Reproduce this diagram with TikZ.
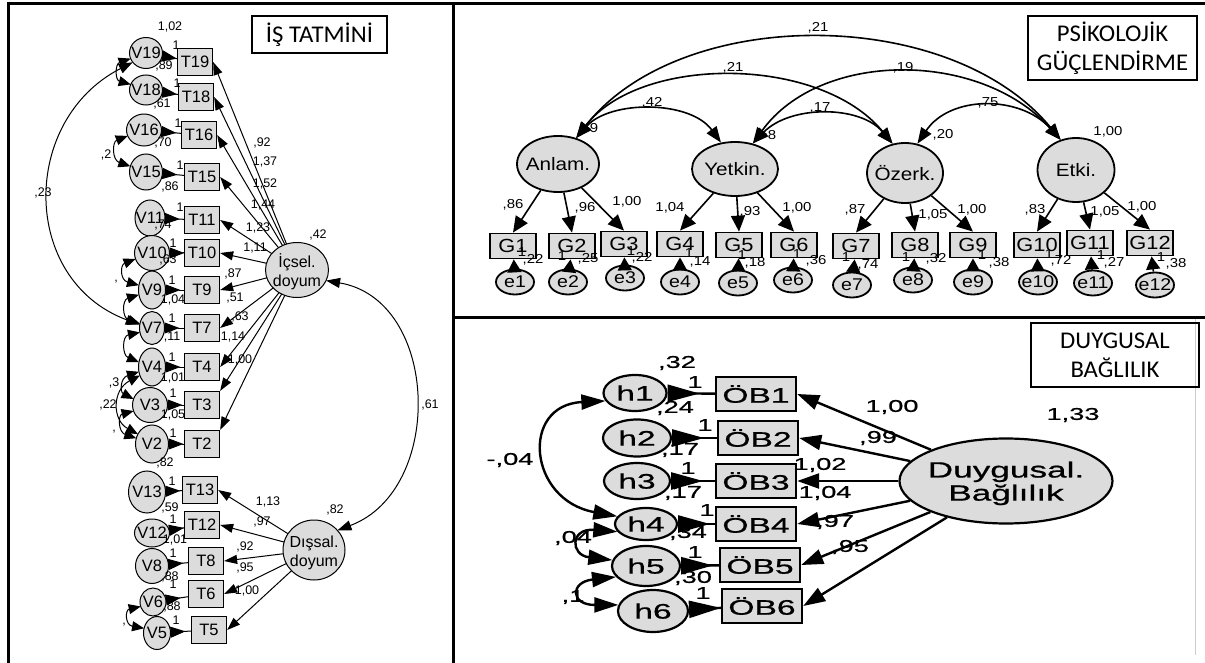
\documentclass[tikz,border=0pt]{standalone}
\usepackage{fontspec}
\setmainfont{Liberation Sans}
\newfontfamily\ttlfont[FakeStretch=1.03]{Carlito}
\newfontfamily\wafont[FakeStretch=1.15]{Liberation Sans}
\newfontfamily\wbfont[FakeStretch=1.6,FakeBold=0.8]{Liberation Sans}
\usetikzlibrary{shapes.geometric,arrows.meta}
\definecolor{lg}{RGB}{220,220,220}
\newcommand\myfs[2]{\fontsize{#1}{#2}\selectfont}
\newcommand\ctr[1]{\smash{\makebox[0pt]{\raisebox{-.5\height}{#1}}}}
\tikzset{
 ttl/.style={draw, line width=1.3pt, align=center, inner sep=0pt, font=\ttlfont\myfs{24}{29}},
 vel/.style={ellipse, draw, fill=lg, line width=1pt, inner sep=0pt, outer sep=0pt, font=\myfs{16.5}{18}},
 tbox/.style={rectangle, draw, fill=lg, line width=1.3pt, minimum width=35pt, minimum height=27pt, inner sep=0pt, font=\myfs{16.5}{18}},
 nl/.style={font=\myfs{12.5}{13}, inner sep=0pt},
 ldA/.style={line width=1pt, -{Triangle[length=13pt,width=9pt]}},
 erA/.style={line width=1pt, {Triangle[reversed,length=15pt,width=11pt]}-},
 cvA/.style={line width=1pt, {Triangle[length=12pt,width=10pt]}-{Triangle[length=12pt,width=10pt]}},
 cvB/.style={line width=1pt, {Triangle[length=14pt,width=10pt]}-{Triangle[length=14pt,width=10pt]}},
 lat2/.style={ellipse, draw, fill=lg, line width=1.8pt, inner sep=0pt, font=\wafont\myfs{18}{20}},
 gbox/.style={rectangle, draw, fill=lg, line width=1.8pt, minimum width=46pt, minimum height=25pt, inner sep=0pt, font=\wafont\myfs{19}{20}},
 eel/.style={ellipse, draw, fill=lg, line width=1.8pt, inner sep=0pt, minimum width=38pt, minimum height=25pt, font=\wafont\myfs{17}{18}},
 nl2/.style={font=\wafont\myfs{13}{14}, inner sep=0pt},
 ld2/.style={line width=1.6pt, -{Triangle[length=16pt,width=14pt]}},
 er2/.style={line width=1.6pt, -{Triangle[length=13pt,width=14pt]}},
 cv2/.style={line width=1.6pt, {Triangle[length=16pt,width=12pt]}-{Triangle[length=16pt,width=12pt]}},
 hel/.style={ellipse, draw, fill=lg, line width=2.2pt, inner sep=0pt, font=\wbfont\myfs{21}{22}},
 obox/.style={rectangle, draw, fill=lg, line width=2.4pt, minimum width=80pt, minimum height=34pt, inner sep=0pt, font=\wbfont\myfs{21}{22}},
 nl3/.style={font=\wbfont\myfs{17}{18}, inner sep=0pt},
 ld3/.style={line width=2.4pt, -{Triangle[length=22pt,width=15pt]}},
 er3/.style={line width=2.4pt, {Triangle[reversed,length=32pt,width=17pt]}-},
 cv3/.style={line width=2.4pt, {Triangle[length=24pt,width=15pt]}-{Triangle[length=24pt,width=15pt]}},
}
\begin{document}
\begin{tikzpicture}[x=1pt,y=-1pt]
\useasboundingbox (0,0) rectangle (1205,663);
\fill[white] (0,0) rectangle (1205,663);
% frame
\draw[line width=3pt] (8.5,663) -- (8.5,3.5) -- (1205,3.5);
\draw[line width=3pt] (453,3.5) -- (453,663);
\draw[line width=3pt] (453,317) -- (1205,317);
\draw[line width=0.8pt, black!20] (1195,319) -- (1195,655);
% titles
\node[ttl, minimum width=135pt, minimum height=37pt] (t1) at (319.5,34.5) {İŞ TATMİNİ};
\node[ttl, minimum width=169pt, minimum height=64pt] (t2) at (1112.5,48) {PSİKOLOJİK\\GÜÇLENDİRME};
\node[ttl, minimum width=168pt, minimum height=64pt] (t3) at (1115,355) {DUYGUSAL\\BAĞLILIK};

% ---------------- left panel nodes
\foreach \n/\x/\y/\w/\h in {V19/146/53/33/31, V18/146/90/33/30, V16/144/130/35/32, V15/146/172/33/36,
  V11/150/218/30/36, V10/152/253/35/35, V9/152/290/27/38, V7/152/328/25/33, V4/152/367/27/38,
  V3/150/405/35/35, V2/152/444/33/38, V13/147/492/37/42, V12/152/533/35/28, V8/152/566/33/35,
  V6/153/602/26/28, V5/157/633/27/33}
  \node[vel, minimum width=\w pt, minimum height=\h pt] (\n) at (\x,\y) {\ctr{\n}};
\foreach \n/\x/\y in {T19/195/62, T18/196/97, T16/199/135, T15/202/177, T11/202/220, T10/202/253,
  T9/202/290, T7/202/328, T4/202/367, T3/202/405, T2/202/444, T13/200/490, T12/202/525,
  T8/206/561, T6/206/594, T5/209/630}
  \node[tbox] (\n) at (\x,\y) {\n};
\node[vel, minimum width=63pt, minimum height=55pt, font=\myfs{16}{19}] (Ic) at (297,270)
  {\ctr{\begin{tabular}[b]{@{}c@{}}İçsel.\\doyum\end{tabular}}};
\node[vel, minimum width=62pt, minimum height=60pt, font=\myfs{16}{19}] (Ds) at (314,550)
  {\ctr{\begin{tabular}[b]{@{}c@{}}Dışsal.\\doyum\end{tabular}}};

% left labels
\foreach [count=\i] \x/\y/\s in {170/27/{1,02}, 176/45/1, 164/66/{,89}, 177/83/1, 162/104/{,61}, 178/123/1,
  163/143/{,70}, 180/165/1, 170/187/{,86}, 180/207/1, 163/225/{,74}, 173/243/1, 168/260/{,63},
  172/280/1, 173/300/{1,04}, 172/318/1, 172/337/{,11}, 172/357/1, 173/378/{1,01}, 173/393/1,
  173/415/{1,05}, 173/433/1, 165/463/{,82}, 172/481/1, 170/508/{,59}, 173/519/1, 175/540/{1,01},
  173/553/1, 170/577/{,88}, 173/584/1, 172/607/{,88}, 176/620/1,
  262/143/{,92}, 265/162/{1,37}, 265/184/{1,52}, 263/205/{1,44}, 258/228/{1,23}, 255/248/{1,11},
  233/274/{,87}, 235/298/{,51}, 240/317/{,63}, 233/337/{1,14}, 240/360/{1,00},
  318/235/{,42}, 430/405/{,61}, 335/510/{,82}, 43/193/{,23}, 108/405/{,22},
  268/502/{1,13}, 262/522/{,97}, 245/547/{,92}, 245/568/{,95}, 247/591/{1,00},
  106/155/{,2}, 116/282/{,}, 114/383/{,3}, 114/432/{,}, 124/625/{,}}
  \node[nl] (a\i) at (\x,\y) {\s};

% left edges
\foreach \v/\t in {V19/T19, V18/T18, V16/T16, V15/T15, V11/T11, V10/T10, V9/T9, V7/T7, V4/T4,
  V3/T3, V2/T2, V13/T13, V12/T12, V8/T8, V6/T6, V5/T5}
  \draw[erA] (\v) -- (\t);
\foreach \t in {T19,T18,T16,T15,T11,T10,T9,T7,T4}
  \draw[ldA] (Ic) -- (\t.east);
\draw[ldA] (Ic) -- (T3.north east);
\draw[ldA] (Ic) -- (T2.north east);
\foreach \t in {T13,T12,T8,T6,T5}
  \draw[ldA] (Ds) -- (\t.east);
\draw[cvA] (V19.200) .. controls (115,64) and (115,80) .. (V18.160);
\draw[cvA] (V16.200) .. controls (112,142) and (112,160) .. (V15.160);
\draw[cvA] (V10.200) .. controls (120,265) and (120,280) .. (V9.160);
\draw[cvA] (V9.200) .. controls (122,300) and (122,318) .. (V7.160);
\draw[cvA] (V7.200) .. controls (122,336) and (122,355) .. (V4.160);
\draw[cvA] (V4.200) .. controls (120,378) and (120,392) .. (V3.160);
\draw[cvA] (V3.200) .. controls (118,415) and (118,432) .. (V2.160);
\draw[cvA] (V4.215) .. controls (112,390) and (112,420) .. (V2.145);
\draw[cvA] (V6.200) .. controls (125,610) and (125,625) .. (V5.160);
\draw[cvB] (V19.215) .. controls (20,120) and (20,280) .. (V7.165);
\draw[cvB] (Ic.-20) .. controls (440,300) and (445,490) .. (Ds.40);

% ---------------- top right panel
\node[lat2, minimum width=82pt, minimum height=56pt] (An) at (558,164) {\ctr{Anlam.}};
\node[lat2, minimum width=86pt, minimum height=54pt] (Yt) at (735,169) {\ctr{Yetkin.}};
\node[lat2, minimum width=76pt, minimum height=60pt] (Oz) at (905,173) {\ctr{Özerk.}};
\node[lat2, minimum width=77pt, minimum height=64pt] (Et) at (1076,170) {\ctr{Etki.}};
\foreach \n/\x/\y in {G1/513/246, G2/572/246, G3/624/244, G4/680/244, G5/739/245, G6/794/245,
  G7/856/246, G8/915/245, G9/973/245, G10/1037/245, G11/1090/243, G12/1150/243}
  \node[gbox] (\n) at (\x,\y) {\n};
\foreach \n/\x/\y in {e1/515/282, e2/568/282, e3/625/278, e4/680/282, e5/738/283, e6/793/280,
  e7/852/285, e8/913/280, e9/973/282, e10/1038/282, e11/1093/283, e12/1155/285}
  \node[eel] (\n) at (\x,\y) {\ctr{\n}};
\foreach [count=\i] \x/\y/\s in {594/128/9, 772/135/8, 943/135/{,20}, 1108/132/{1,00},
  652/103/{,42}, 733/68/{,21}, 818/28/{,21}, 820/108/{,17}, 903/68/{,19}, 988/103/{,75},
  513/205/{,86}, 585/208/{,96}, 627/202/{1,00}, 670/208/{1,04}, 750/212/{,93}, 797/208/{1,00},
  855/210/{,87}, 933/215/{1,05}, 972/210/{1,00}, 1035/210/{,83}, 1105/212/{1,05}, 1142/207/{1,00},
  522/252/1, 533/260/{,22}, 562/256/1, 588/259/{,25}, 631/251/1, 642/258/{,22},
  689/253/1, 700/262/{,14}, 742/255/1, 755/263/{,18}, 797/254/1, 816/261/{,36},
  846/257/1, 868/265/{,74}, 906/257/1, 936/259/{,32}, 982/255/1, 999/263/{,38},
  1049/254/1, 1061/261/{,72}, 1101/255/1, 1114/263/{,27}, 1161/257/1, 1176/264/{,38}}
  \node[nl2] (b\i) at (\x,\y) {\s};
\foreach \g in {G1,G2,G3} \draw[ld2] (An) -- (\g.north);
\foreach \g in {G4,G5,G6} \draw[ld2] (Yt) -- (\g.north);
\foreach \g in {G7,G8,G9} \draw[ld2] (Oz) -- (\g.north);
\foreach \g in {G10,G11,G12} \draw[ld2] (Et) -- (\g.north);
\foreach \e/\g in {e1/G1,e2/G2,e3/G3,e4/G4,e5/G5,e6/G6,e7/G7,e8/G8,e9/G9,e10/G10,e11/G11,e12/G12}
  \draw[er2] (\e) -- (\g);
\draw[cv2] (An.55) .. controls (610,100) and (690,100) .. (Yt.118);
\draw[cv2] (An.55) .. controls (640,55) and (820,55) .. (Oz.113);
\draw[cv2] (An.55) .. controls (680,5) and (950,5) .. (Et.117);
\draw[cv2] (Yt.55) .. controls (790,105) and (860,105) .. (Oz.113);
\draw[cv2] (Yt.55) .. controls (820,50) and (980,50) .. (Et.117);
\draw[cv2] (Oz.67) .. controls (950,95) and (1020,95) .. (Et.117);

% ---------------- bottom right panel
\foreach \n/\x/\y/\w/\h in {h1/635/393/63/36, h2/637/438/68/37, h3/637/481/66/36,
  h4/646/524/62/32, h5/646/566/68/40, h6/653/611/70/42}
  \node[hel, minimum width=\w pt, minimum height=\h pt] (\n) at (\x,\y) {\ctr{\n}};
\foreach \n/\x/\y in {1/756/394, 2/758/438, 3/756/481, 4/756/524, 5/760/565, 6/762/606}
  \node[obox] (OB\n) at (\x,\y) {ÖB\n};
\node[hel, minimum width=213pt, minimum height=85pt, font=\wbfont\myfs{22}{23}] (D) at (1006,481)
  {\ctr{\begin{tabular}[b]{@{}c@{}}Duygusal.\\Bağlılık\end{tabular}}};
\foreach [count=\i] \x/\y/\s in {677/363/{,32}, 695/382/1, 675/408/{,24}, 705/425/1, 680/450/{,17},
  688/468/1, 683/493/{,17}, 707/510/1, 688/533/{,34}, 695/552/1, 693/578/{,30}, 703/593/1,
  510/460/{-,04}, 573/538/{,04}, 573/597/{,1}, 892/407/{1,00}, 878/438/{,99}, 820/465/{1,02},
  825/493/{1,04}, 835/522/{,97}, 850/547/{,95}, 1073/415/{1,33}}
  \node[nl3] (c\i) at (\x,\y) {\s};
\foreach \n in {1,...,6} \draw[er3] (h\n) -- (OB\n);
\foreach \n in {1,...,6} \draw[ld3] (D) -- (OB\n.east);
\draw[cv3] (h1.195) .. controls (520,405) and (528,500) .. (h4.165);
\draw[cv3] (h4.195) .. controls (570,528) and (570,555) .. (h5.170);
\draw[cv3] (h5.200) .. controls (570,582) and (570,605) .. (h6.170);
\end{tikzpicture}
\end{document}
